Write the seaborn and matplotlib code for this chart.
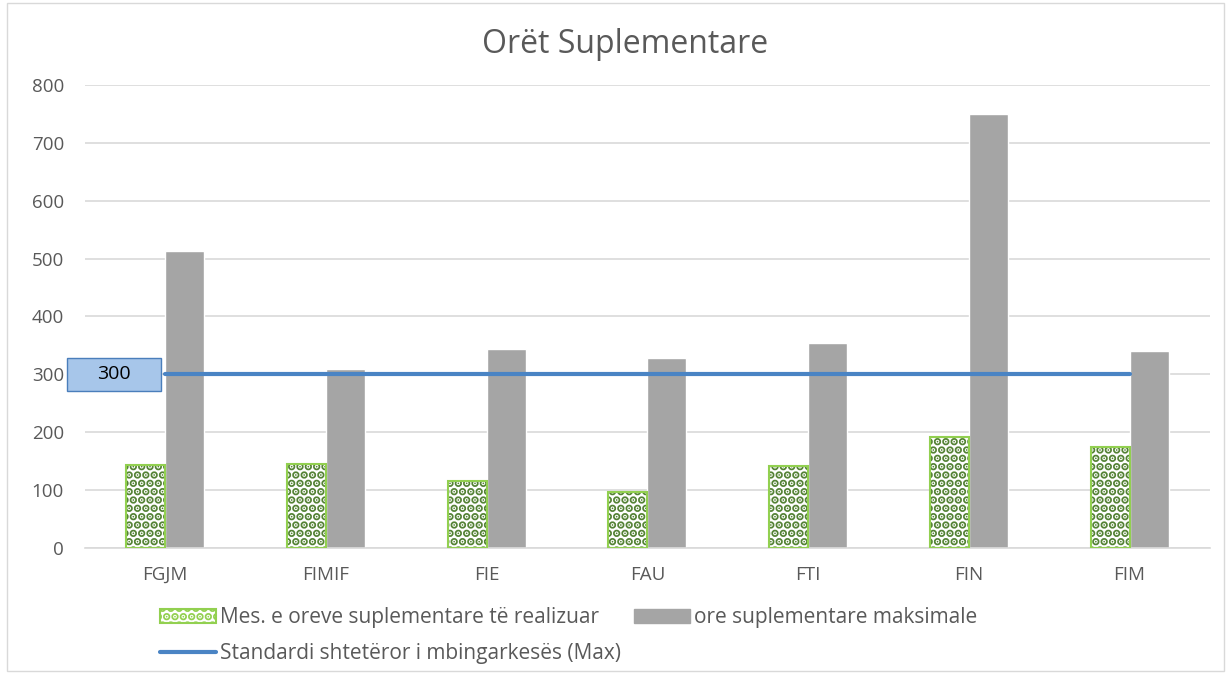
import pandas as pd
import matplotlib.pyplot as plt
import seaborn as sns
from matplotlib.patches import Patch, Rectangle
from matplotlib.lines import Line2D

# Dados
categories = ['FGJM', 'FIMIF', 'FIE', 'FAU', 'FTI', 'FIN', 'FIM']
realized = [143, 145, 116, 97, 142, 192, 174]
maximum = [513, 310, 344, 328, 354, 750, 340]
standard = [300, 300, 300, 300, 300, 300, 300]
series_names = ['Mes. e oreve suplementare të realizuar', 'ore suplementare maksimale']
line_name = 'Standardi shtetëror i mbingarkesës (Max)'

df = pd.DataFrame({
    'Fakulteti': categories * 2,
    'Ore': realized + maximum,
    'Seria': [series_names[0]] * len(categories) + [series_names[1]] * len(categories),
})

sns.set_theme(style="white")
plt.rcParams['font.family'] = ['Open Sans', 'DejaVu Sans']
plt.rcParams['hatch.linewidth'] = 4.0

txt = '#595959'
dark_green = '#548235'
light_green = '#92d050'
gray = '#a5a5a5'
blue = '#4a84c4'

fig = plt.figure(figsize=(12.29, 6.74), dpi=100)
ax = fig.add_axes([0.069, 0.187, 0.9155, 0.687])

sns.barplot(data=df, x='Fakulteti', y='Ore', hue='Seria', order=categories,
            palette=['white', gray], width=0.485, gap=0, saturation=1,
            legend=False, ax=ax, zorder=2)

n = len(categories)
for p in ax.patches[:n]:
    p.set_hatch('..')
    p.set_edgecolor(dark_green)
    p.set_linewidth(0)
    ax.add_patch(Rectangle(p.get_xy(), p.get_width(), p.get_height(),
                           fill=False, edgecolor=light_green, linewidth=1.5, zorder=3))

ax.plot(categories, standard, color=blue, linewidth=3, solid_capstyle='round', zorder=4)

# etiketa 300
ax.add_patch(Rectangle((-0.61, standard[0] - 29), 0.585, 58, facecolor='#a7c6ea',
                       edgecolor='#4a7ebb', linewidth=1, clip_on=False, zorder=5))
ax.text(-0.318, standard[0], str(standard[0]), ha='center', va='center',
        fontsize=14, color='black', zorder=6, clip_on=False)

ax.set_ylim(0, 800)
ax.set_xlim(-0.5, n - 0.5)
ax.set_yticks(range(0, 801, 100))
ax.yaxis.grid(True, color='#d9d9d9', linewidth=1.2, zorder=0)
ax.set_axisbelow(True)
for s in ['left', 'right', 'top']:
    ax.spines[s].set_visible(False)
ax.spines['bottom'].set_color('#d9d9d9')
ax.spines['bottom'].set_linewidth(1.2)
ax.tick_params(axis='both', colors=txt, labelsize=13.5, length=0)
ax.tick_params(axis='y', pad=15)
ax.tick_params(axis='x', pad=13)
ax.set_xlabel('')
ax.set_ylabel('')

fig.text(0.509, 0.934, 'Orët Suplementare', ha='center', va='center', fontsize=23, color=txt)

handles = [
    Patch(facecolor='white', edgecolor=light_green, hatch='..', linewidth=1.5),
    Line2D([0], [0], color=blue, linewidth=3),
    Patch(facecolor=gray, edgecolor=gray),
]
labels = [series_names[0], line_name, series_names[1]]
fig.legend(handles, labels, ncol=2, loc='upper left', bbox_to_anchor=(0.13, 0.099),
           frameon=False, fontsize=15, labelcolor=txt, handlelength=2.7,
           handletextpad=0.2, columnspacing=0.6, labelspacing=0.7, borderpad=0,
           borderaxespad=0)

fig.add_artist(Rectangle((0.006, 0.005), 0.99, 0.99, transform=fig.transFigure,
                         fill=False, edgecolor='#d9d9d9', linewidth=1))

plt.savefig('out.png', dpi=100)
plt.close()
